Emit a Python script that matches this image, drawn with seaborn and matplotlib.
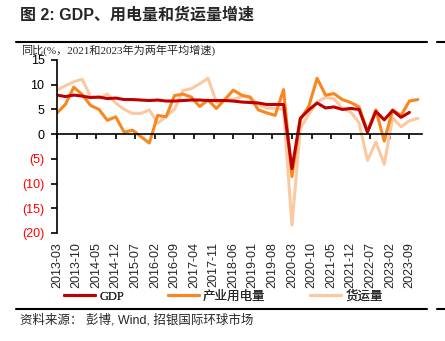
import matplotlib
matplotlib.use("Agg")
import matplotlib.pyplot as plt
from matplotlib.lines import Line2D
import seaborn as sns
import pandas as pd
import numpy as np

# ---------------- data ----------------
# quarterly observations, positioned by month index from 2013-03
month_idx = list(range(0, 130, 3))  # 2013-03 ... 2023-12
gdp = [7.9, 7.6, 7.9, 7.7, 7.4, 7.5, 7.2, 7.3, 7.0, 7.0, 6.9, 6.8,
       6.9, 6.7, 6.7, 6.8, 6.9, 6.9, 6.8, 6.8, 6.8, 6.7, 6.5, 6.4,
       6.3, 6.0, 6.0, 6.0, -7.0, 3.2, 4.9, 6.3, 5.3, 5.5, 5.0, 5.2,
       5.0, 0.4, 4.6, 2.9, 4.8, 3.4, 4.4, np.nan]
power = [4.3, 6.0, 9.5, 8.0, 5.8, 5.0, 2.8, 3.5, 0.4, 0.8, -0.5, -1.8,
         3.8, 3.5, 7.8, 8.1, 7.5, 5.6, 6.9, 5.2, 7.0, 8.9, 7.9, 7.5,
         4.9, 4.3, 3.8, 9.0, -8.6, 3.0, 5.6, 11.3, 7.9, 8.2, 7.0, 6.4,
         5.5, 0.5, 4.9, -1.4, 4.9, 3.8, 6.7, 7.0]
freight = [8.9, 9.8, 10.6, 11.1, 7.6, 7.3, 8.1, 6.3, 5.0, 4.2, 4.2, 4.9,
           2.2, 3.6, 5.0, 8.8, 9.2, 10.2, 11.3, 6.4, 6.9, 7.0, 7.6, 7.5,
           6.0, 5.3, 5.2, 5.0, -18.4, 1.2, 4.0, 6.5, 7.4, 7.2, 5.2, 4.5,
           2.3, -5.3, -1.6, -6.1, 3.3, 1.5, 2.7, 3.2]
series_names = ["GDP", "产业用电量", "货运量"]
xtick_labels = ["2013-03", "2013-10", "2014-05", "2014-12", "2015-07", "2016-02",
                "2016-09", "2017-04", "2017-11", "2018-06", "2019-01", "2019-08",
                "2020-03", "2020-10", "2021-05", "2021-12", "2022-07", "2023-02",
                "2023-09"]
ytick_values = [-20, -15, -10, -5, 0, 5, 10, 15]
ytick_labels = ["(20)", "(15)", "(10)", "(5)", "0", "5", "10", "15"]

# ---------------- style ----------------
sns.set_style("ticks")
plt.rcParams["font.family"] = ["Liberation Sans", "Noto Sans CJK SC", "DejaVu Sans"]
plt.rcParams["axes.unicode_minus"] = False

colors = {"GDP": "#C00000", "产业用电量": "#F7871E", "货运量": "#FAC9A2"}

df = pd.concat([
    pd.DataFrame({"x": month_idx, "v": gdp, "s": series_names[0]}),
    pd.DataFrame({"x": month_idx, "v": power, "s": series_names[1]}),
    pd.DataFrame({"x": month_idx, "v": freight, "s": series_names[2]}),
])

fig = plt.figure(figsize=(4.45, 3.41), dpi=100)
ax = fig.add_axes([57 / 445, 1 - 233 / 341, (422 - 57) / 445, (233 - 60) / 341])

order = ["货运量", "产业用电量", "GDP"]
for name in order:
    sub = df[df["s"] == name].dropna()
    sns.lineplot(data=sub, x="x", y="v", ax=ax, color=colors[name],
                 linewidth=2.2, estimator=None, sort=False, legend=False)

ax.set_xlim(0, 130.5)
ax.set_ylim(-20, 15)
ax.set_xlabel("")
ax.set_ylabel("")

# y axis
ax.set_yticks(ytick_values)
ax.set_yticklabels(ytick_labels, fontsize=9, family=["Liberation Sans"])
for lbl, val in zip(ax.get_yticklabels(), ytick_values):
    lbl.set_color("#FF0000" if val < 0 else "black")
ax.tick_params(axis="y", length=4, width=1.2, pad=5, color="black")

# x axis: spine at zero, labels at bottom
xt = list(range(0, 7 * len(xtick_labels), 7))
ax.spines["bottom"].set_position(("data", 0))
ax.spines["top"].set_visible(False)
ax.spines["right"].set_visible(False)
ax.spines["left"].set_linewidth(1.2)
ax.spines["bottom"].set_linewidth(1.2)
ax.spines["left"].set_color("black")
ax.spines["bottom"].set_color("black")
ax.set_xticks(xt)
ax.tick_params(axis="x", labelbottom=False, length=3.5, width=1.2, direction="out", color="black")

sec = ax.secondary_xaxis("bottom")
sec.set_xticks(xt, labels=xtick_labels)
sec.tick_params(axis="x", length=0, pad=6.5, labelsize=9, rotation=90)
for lbl in sec.get_xticklabels():
    lbl.set_family(["Liberation Sans"])
sec.spines["bottom"].set_visible(False)

# legend: one entry per legend so each sits where the reference has it
legend_x = [64, 168, 310]
for name, lx in zip(series_names, legend_x):
    h = Line2D([0], [0], color=colors[name], lw=2.2)
    leg = fig.legend([h], [name], loc="center left",
                     bbox_to_anchor=(lx / 445, 1 - 296.5 / 341), frameon=False,
                     borderpad=0, borderaxespad=0, handlelength=2.5,
                     handletextpad=0.3,
                     prop={"family": ["Liberation Serif", "Noto Sans CJK SC"], "size": 9})
    fig.add_artist(leg)

# title, subtitle, rules, source
fig.text(20 / 445, 1 - 15 / 341, "图 2: GDP、用电量和货运量增速", fontsize=11.5,
         fontweight="bold", va="center", ha="left",
         family=["Liberation Sans", "Noto Sans CJK SC"])
fig.text(21 / 445, 1 - 50 / 341, "同比(%，2021和2023年为两年平均增速)", fontsize=8,
         va="center", ha="left", family=["Liberation Serif", "Noto Sans CJK SC"])
fig.text(20 / 445, 1 - 320 / 341, "资料来源： 彭博, Wind, 招银国际环球市场", fontsize=9,
         va="center", ha="left", family=["Liberation Sans", "Noto Sans CJK SC"])
for yy in (42, 309):
    fig.add_artist(Line2D([16 / 445, 427 / 445], [1 - yy / 341] * 2, color="black", lw=1.5))
    fig.add_artist(Line2D([437 / 445, 1.0], [1 - yy / 341] * 2, color="black", lw=1.5))

fig.savefig("out.png", dpi=100)
